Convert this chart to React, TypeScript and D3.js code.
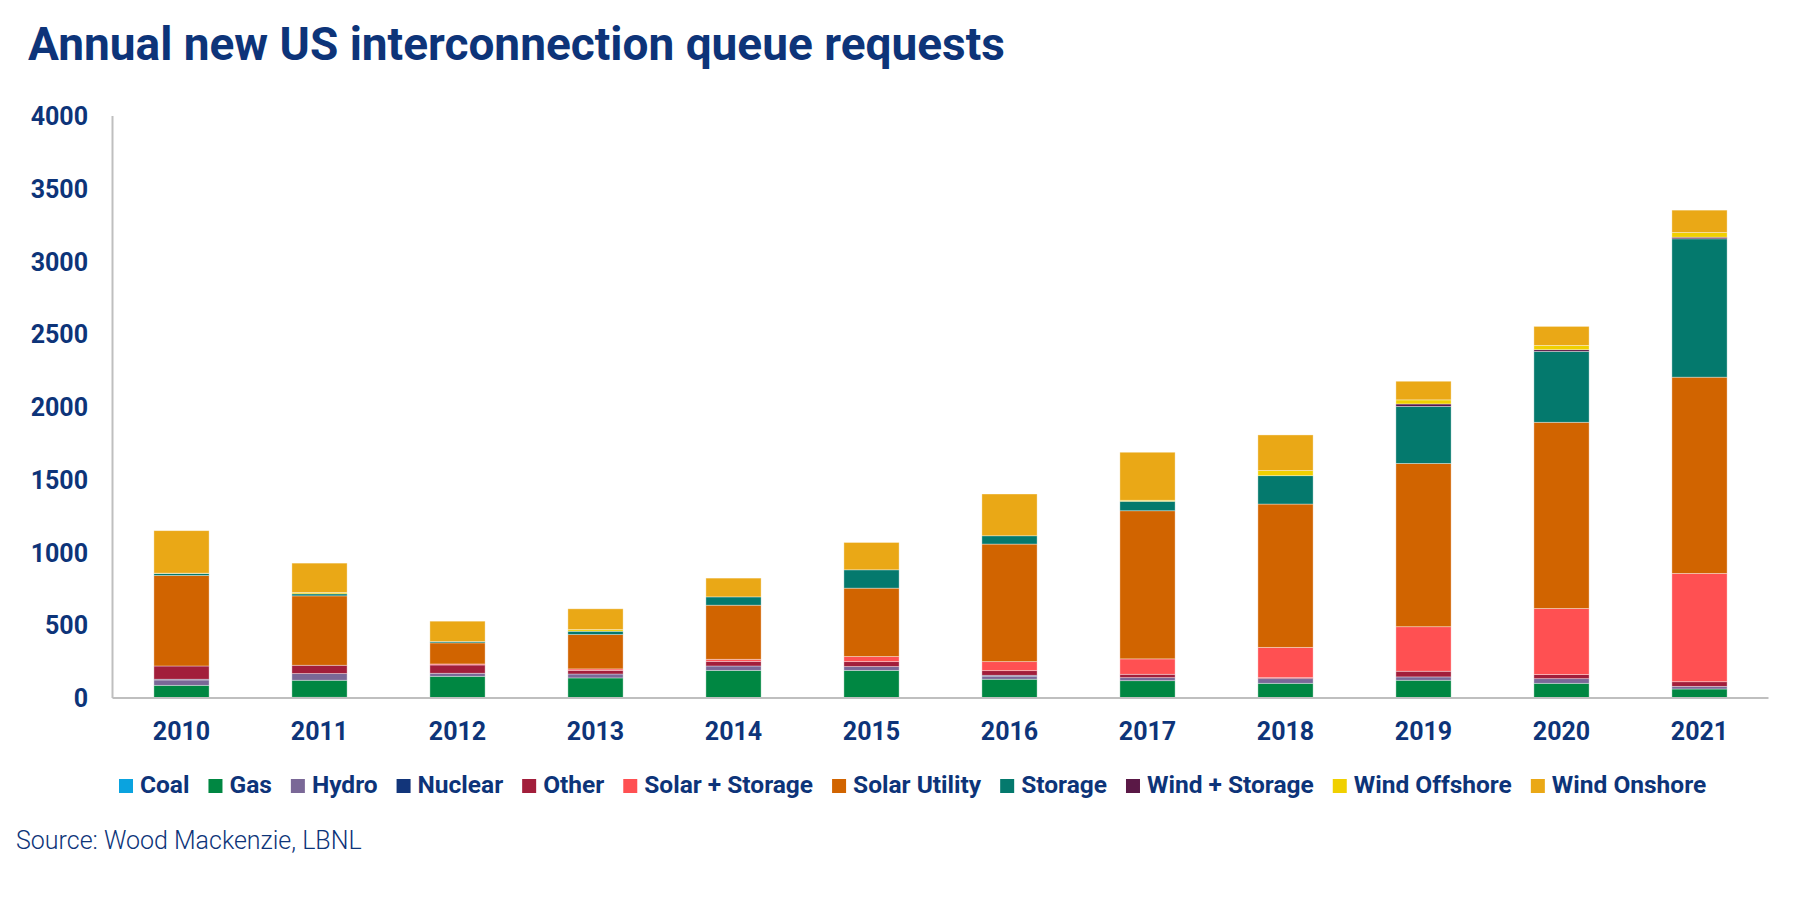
import { useEffect, useRef } from 'react'
import * as d3 from 'd3'

// values (stacked bottom to top)
const years = ['2010', '2011', '2012', '2013', '2014', '2015', '2016', '2017', '2018', '2019', '2020', '2021']
const coal = [0, 5, 0, 0, 0, 0, 0, 0, 0, 0, 0, 0]
const gas = [87, 117, 149, 138, 190, 190, 129, 119, 101, 122, 101, 62]
const hydro = [37, 46, 21, 27, 30, 26, 21, 21, 32, 23, 32, 18]
const nuclear = [5, 0, 0, 0, 0, 0, 6, 0, 0, 0, 0, 0]
const other = [91, 57, 57, 25, 32, 34, 32, 23, 7, 39, 28, 32]
const solarStorage = [0, 0, 7, 10, 14, 35, 62, 106, 208, 306, 454, 744]
const solarUtility = [622, 477, 145, 236, 372, 470, 808, 1018, 985, 1122, 1280, 1349]
const storage = [14, 14, 9, 23, 57, 126, 57, 65, 195, 392, 487, 951]
const windStorage = [0, 0, 0, 0, 0, 0, 0, 0, 0, 17, 12, 11]
const windOffshore = [2, 9, 0, 11, 0, 0, 0, 7, 35, 28, 29, 32]
const windOnshore = [292, 202, 140, 143, 129, 188, 287, 330, 245, 128, 131, 154]

const yTicks = [0, 500, 1000, 1500, 2000, 2500, 3000, 3500, 4000]

const series = [
  { name: 'Coal', values: coal, color: '#0AA3DF' },
  { name: 'Gas', values: gas, color: '#008742' },
  { name: 'Hydro', values: hydro, color: '#7A6897' },
  { name: 'Nuclear', values: nuclear, color: '#12357A' },
  { name: 'Other', values: other, color: '#A21E3B' },
  { name: 'Solar + Storage', values: solarStorage, color: '#FF5052' },
  { name: 'Solar Utility', values: solarUtility, color: '#D16400' },
  { name: 'Storage', values: storage, color: '#04796D' },
  { name: 'Wind + Storage', values: windStorage, color: '#5A1846' },
  { name: 'Wind Offshore', values: windOffshore, color: '#F0D000' },
  { name: 'Wind Onshore', values: windOnshore, color: '#EAA816' },
]

const NAVY = '#0D3479'
const W = 1800
const H = 897

export default function App() {
  const svgRef = useRef<SVGSVGElement>(null)

  useEffect(() => {
    if (!svgRef.current) return
    const svg = d3.select(svgRef.current)
    svg.selectAll('*').remove()

    const x = d3.scaleBand<string>().domain(years).range([112.5, 1768.5]).paddingInner(0.6).paddingOuter(0.3)
    const y = d3.scaleLinear().domain([0, 4000]).range([698, 116])

    const rows = years.map((yr, i) => {
      const r: Record<string, number | string> = { year: yr }
      series.forEach(s => { r[s.name] = s.values[i] })
      return r
    })
    const stack = d3.stack<Record<string, number | string>>().keys(series.map(s => s.name))
    const layers = stack(rows as any)

    // title
    svg.append('text')
      .attr('x', 28).attr('y', 60)
      .attr('font-family', 'Roboto, sans-serif').attr('font-weight', 700).attr('font-size', 46)
      .attr('fill', NAVY)
      .text('Annual new US interconnection queue requests')

    // bars
    const g = svg.append('g')
    layers.forEach((layer, li) => {
      g.append('g').attr('fill', series[li].color)
        .selectAll('rect')
        .data(layer.filter(d => d[1] - d[0] > 0))
        .join('rect')
        .attr('x', d => x(d.data.year as string)!)
        .attr('width', x.bandwidth())
        .attr('y', d => y(d[1]))
        .attr('height', d => y(d[0]) - y(d[1]))
        .attr('stroke', '#ffffff').attr('stroke-opacity', 0.45).attr('stroke-width', 0.8)
    })

    // axis lines
    svg.append('line')
      .attr('x1', 112.5).attr('x2', 112.5).attr('y1', y(4000)).attr('y2', y(0))
      .attr('stroke', '#BFBFBF').attr('stroke-width', 2)
    svg.append('line')
      .attr('x1', 112.5).attr('x2', 1768.5).attr('y1', y(0)).attr('y2', y(0))
      .attr('stroke', '#BFBFBF').attr('stroke-width', 2)

    // y tick labels
    svg.append('g').selectAll('text').data(yTicks).join('text')
      .attr('x', 88).attr('y', d => y(d)).attr('dy', '0.36em')
      .attr('text-anchor', 'end')
      .attr('font-family', 'Roboto, sans-serif').attr('font-weight', 700).attr('font-size', 25)
      .attr('fill', NAVY)
      .text(d => d)

    // x labels
    svg.append('g').selectAll('text').data(years).join('text')
      .attr('x', d => x(d)! + x.bandwidth() / 2).attr('y', 740)
      .attr('text-anchor', 'middle')
      .attr('font-family', 'Roboto, sans-serif').attr('font-weight', 700).attr('font-size', 25)
      .attr('fill', NAVY)
      .text(d => d)

    // legend
    const lg = svg.append('g')
    let cx = 119
    series.forEach(s => {
      lg.append('rect').attr('x', cx).attr('y', 779).attr('width', 14).attr('height', 14).attr('fill', s.color)
      const t = lg.append('text')
        .attr('x', cx + 21).attr('y', 793)
        .attr('font-family', 'Roboto, sans-serif').attr('font-weight', 700).attr('font-size', 24.5)
        .attr('fill', NAVY)
        .text(s.name)
      const tw = (t.node() as SVGTextElement).getComputedTextLength()
      cx += 21 + tw + 19
    })

    // source
    svg.append('text')
      .attr('x', 16).attr('y', 849)
      .attr('font-family', 'Roboto, sans-serif').attr('font-weight', 300).attr('font-size', 25)
      .attr('fill', NAVY)
      .text('Source: Wood Mackenzie, LBNL')
  }, [])

  return (
    <svg ref={svgRef} width={W} height={H}
      style={{ position: 'absolute', left: 0, top: 0, background: '#fff', display: 'block' }} />
  )
}
